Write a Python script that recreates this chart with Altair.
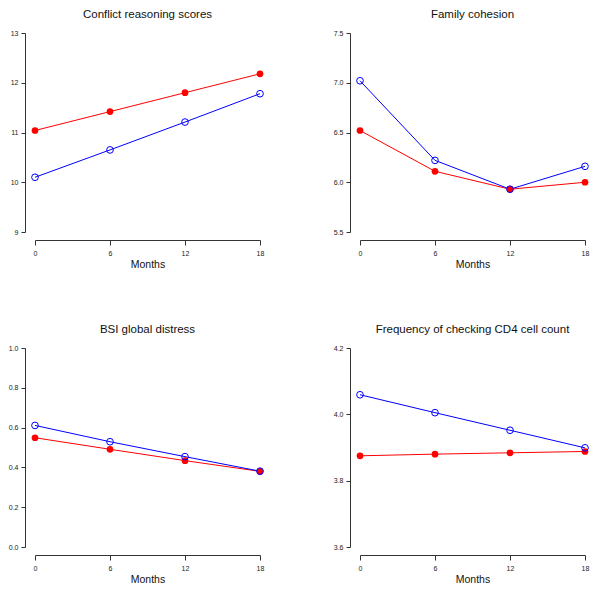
import altair as alt
import pandas as pd

months = [0, 6, 12, 18]

titles = [
    "Conflict reasoning scores",
    "Family cohesion",
    "BSI global distress",
    "Frequency of checking CD4 cell count",
]

conflict_red = [11.04, 11.42, 11.80, 12.18]
conflict_blue = [10.10, 10.65, 11.21, 11.78]
cohesion_red = [6.52, 6.11, 5.93, 6.00]
cohesion_blue = [7.02, 6.22, 5.93, 6.16]
bsi_red = [0.549, 0.491, 0.434, 0.380]
bsi_blue = [0.611, 0.529, 0.454, 0.381]
cd4_red = [3.875, 3.880, 3.884, 3.888]
cd4_blue = [4.059, 4.005, 3.952, 3.899]

y_domains = [[9, 13], [5.5, 7.5], [0.0, 1.0], [3.6, 4.2]]
y_ticks = [
    [9, 10, 11, 12, 13],
    [5.5, 6.0, 6.5, 7.0, 7.5],
    [0.0, 0.2, 0.4, 0.6, 0.8, 1.0],
    [3.6, 3.8, 4.0, 4.2],
]
y_formats = ["d", ".1f", ".1f", ".1f"]

RED = "#FF0000"
BLUE = "#0000FF"
FONT = "Liberation Sans"
W, H = 225, 199


def panel(title, red, blue, ydom, yticks, fmt):
    df = pd.DataFrame({
        "Months": months * 2,
        "value": red + blue,
        "group": ["red"] * 4 + ["blue"] * 4,
    })
    x = alt.X("Months:Q",
              scale=alt.Scale(domain=[0, 18], nice=False, zero=False),
              axis=alt.Axis(values=months, title="Months", offset=8, grid=False,
                            format="d", labelFlush=False, tickSize=5,
                            labelPadding=4))
    y = alt.Y("value:Q",
              scale=alt.Scale(domain=ydom, nice=False, zero=False),
              axis=alt.Axis(values=yticks, title=None, offset=10, grid=False,
                            format=fmt, labelFlush=False, tickSize=4,
                            labelPadding=3))
    base = alt.Chart(df)
    red_line = base.transform_filter("datum.group == 'red'").mark_line(
        color=RED, strokeWidth=1).encode(x=x, y=y)
    blue_line = base.transform_filter("datum.group == 'blue'").mark_line(
        color=BLUE, strokeWidth=1).encode(x=x, y=y)
    red_pts = base.transform_filter("datum.group == 'red'").mark_point(
        filled=True, color=RED, size=45, opacity=1).encode(x=x, y=y)
    blue_pts = base.transform_filter("datum.group == 'blue'").mark_point(
        filled=False, color=BLUE, size=45, strokeWidth=1, opacity=1).encode(x=x, y=y)
    return alt.layer(red_line, blue_line, red_pts, blue_pts).properties(
        width=W, height=H,
        title=alt.TitleParams(title, fontSize=11.5, font=FONT,
                              fontWeight="normal", offset=9, color="#111111"),
    )


p1 = panel(titles[0], conflict_red, conflict_blue, y_domains[0], y_ticks[0], y_formats[0])
p2 = panel(titles[1], cohesion_red, cohesion_blue, y_domains[1], y_ticks[1], y_formats[1])
p3 = panel(titles[2], bsi_red, bsi_blue, y_domains[2], y_ticks[2], y_formats[2])
p4 = panel(titles[3], cd4_red, cd4_blue, y_domains[3], y_ticks[3], y_formats[3])

chart = alt.concat(
    p1, p2, p3, p4, columns=2,
    spacing={"row": 53, "column": 67},
).properties(padding=0).configure(background="white").configure_view(
    stroke=None
).configure_axis(
    grid=False,
    labelFont=FONT, labelFontSize=7, labelColor="#222222",
    titleFont=FONT, titleFontSize=10.5, titleFontWeight="normal", titleColor="#111111",
    domainColor="#333333", tickColor="#333333",
    titlePadding=3,
)

chart.save("out.html", embed_options={"renderer": "svg", "actions": False})
